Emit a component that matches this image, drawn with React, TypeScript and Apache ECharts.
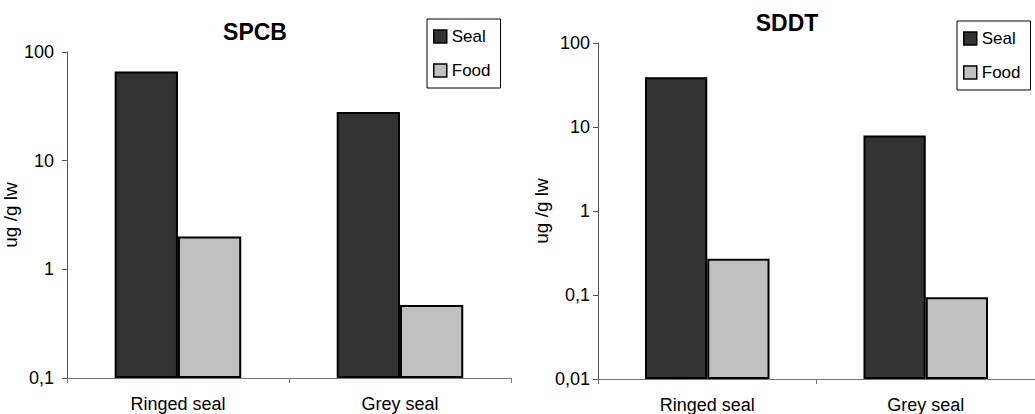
import React, { useEffect, useRef } from 'react';
import * as echarts from 'echarts';

const categories = ['Ringed seal', 'Grey seal'];
const seriesNames = ['Seal', 'Food'];
const chartTitles = ['SPCB', 'SDDT'];
const yAxisName = 'ug /g lw';
const spcbSeal = [66, 28];
const spcbFood = [2.0, 0.47];
const sddtSeal = [39, 7.9];
const sddtFood = [0.27, 0.094];
const yMins = [0.1, 0.01];
const yMax = 100;

const FONT = '"Liberation Sans", Arial, sans-serif';
const SEAL_COLOR = '#333333';
const FOOD_COLOR = '#c0c0c0';

const fmt = (v: number) => String(+Number(v).toPrecision(6)).replace('.', ',');

export default function App() {
  const ref = useRef<HTMLDivElement>(null);
  useEffect(() => {
    document.body.style.margin = '0';
    const chart = echarts.init(ref.current!, null, { renderer: 'svg' });
    const grids = [
      { left: 65, top: 52, width: 446, height: 326 },
      { left: 598, top: 43, width: 442, height: 336 },
    ];
    const labelMargins = [13, 8];
    const nameGaps = [37, 40];
    const mkBar = (name: string, data: number[], idx: number, color: string) => ({
      type: 'bar',
      name,
      data,
      xAxisIndex: idx,
      yAxisIndex: idx,
      barGap: '0%',
      barCategoryGap: '43%',
      itemStyle: { color, borderColor: '#000', borderWidth: 2 },
    });
    const mkLegend = (left: number, top: number) => ({
      left, top, orient: 'vertical', data: seriesNames, itemWidth: 13, itemHeight: 13,
      itemGap: 17, padding: [9, 10, 9, 6], borderColor: '#000', borderWidth: 1, icon: 'rect',
      itemStyle: { borderColor: '#000', borderWidth: 1.5 },
      textStyle: { fontFamily: FONT, fontSize: 17, color: '#000', lineHeight: 13 },
    });
    const option: any = {
      animation: false,
      textStyle: { fontFamily: FONT },
      title: [
        { text: chartTitles[0], left: 255, top: 19, textAlign: 'center', padding: 0,
          textStyle: { fontFamily: FONT, fontSize: 23, fontWeight: 'bold', color: '#000', lineHeight: 26 } },
        { text: chartTitles[1], left: 787, top: 10, textAlign: 'center', padding: 0,
          textStyle: { fontFamily: FONT, fontSize: 23, fontWeight: 'bold', color: '#000', lineHeight: 26 } },
      ],
      legend: [mkLegend(427, 19), mkLegend(957, 21)],
      grid: grids,
      xAxis: [0, 1].map((i) => ({
        type: 'category',
        gridIndex: i,
        data: categories,
        axisLine: { lineStyle: { color: '#777', width: 1 } },
        axisTick: { show: true, length: 5, lineStyle: { color: '#777' } },
        axisLabel: { fontFamily: FONT, fontSize: 18, color: '#000', margin: 17 },
      })),
      yAxis: [0, 1].map((i) => ({
        type: 'log',
        logBase: 10,
        gridIndex: i,
        min: yMins[i],
        max: yMax,
        startValue: yMins[i],
        name: yAxisName,
        nameLocation: 'middle',
        nameGap: nameGaps[i],
        nameTextStyle: { fontFamily: FONT, fontSize: 19, color: '#000' },
        axisLine: { show: true, lineStyle: { color: '#555', width: 1 } },
        axisTick: { show: true, length: 5, lineStyle: { color: '#555' } },
        splitLine: { show: false },
        minorTick: { show: false },
        axisLabel: { fontFamily: FONT, fontSize: 18, color: '#000', margin: labelMargins[i], formatter: fmt },
      })),
      series: [
        mkBar(seriesNames[0], spcbSeal, 0, SEAL_COLOR),
        mkBar(seriesNames[1], spcbFood, 0, FOOD_COLOR),
        mkBar(seriesNames[0], sddtSeal, 1, SEAL_COLOR),
        mkBar(seriesNames[1], sddtFood, 1, FOOD_COLOR),
      ],
    };
    chart.setOption(option);
    return () => chart.dispose();
  }, []);
  return <div ref={ref} style={{ width: 1035, height: 414, position: 'absolute', left: 0, top: 0 }} />;
}
